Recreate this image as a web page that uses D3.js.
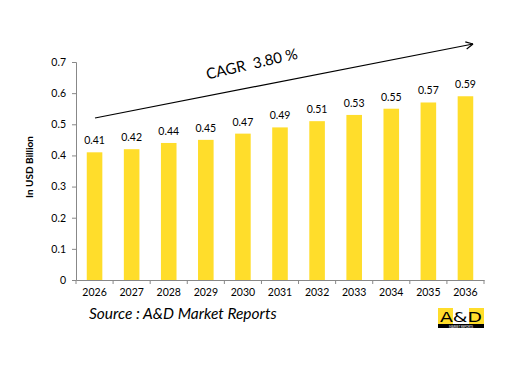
<!DOCTYPE html>
<html><head><meta charset="utf-8">
<script src="https://cdn.jsdelivr.net/npm/d3@7"></script>
<style>body{margin:0;background:#fff;} svg{display:block;}</style>
</head><body>
<script>
const years = ["2026","2027","2028","2029","2030","2031","2032","2033","2034","2035","2036"];
const values = [0.41,0.42,0.44,0.45,0.47,0.49,0.51,0.53,0.55,0.57,0.59];
const yTicks = [0,0.1,0.2,0.3,0.4,0.5,0.6,0.7];
const cagrText = "CAGR  3.80 %";
const yTitle = "In USD Billion";
const sourceText = "Source : A&D Market Reports";

(function(){
const W=518,H=366;
const svg=d3.select("body").append("svg").attr("width",W).attr("height",H);
const font="Lato, 'Open Sans', sans-serif";
const pL=76,pR=484,pT=62,pB=280;
const x=d3.scaleBand().domain(years).range([pL,pR]).paddingInner(0.58).paddingOuter(0.29);
const y=d3.scaleLinear().domain([0,0.7]).range([pB,pT]);

svg.selectAll("rect.bar").data(values).join("rect").attr("class","bar")
 .attr("x",(d,i)=>x(years[i])).attr("width",x.bandwidth())
 .attr("y",d=>y(d)).attr("height",d=>pB-y(d)).attr("fill","#FFDD2B");

svg.selectAll("text.val").data(values).join("text").attr("class","val")
 .attr("x",(d,i)=>x(years[i])+x.bandwidth()/2).attr("y",d=>y(d)-8)
 .attr("text-anchor","middle").attr("font-family",font).attr("font-size",10.5).attr("fill","#000")
 .text(d=>d.toFixed(2));

const ya=svg.append("g").attr("transform",`translate(${pL},0)`)
 .call(d3.axisLeft(y).tickValues(yTicks).tickSize(4).tickFormat(d=>d===0?"0":d3.format(".1f")(d)));
ya.select(".domain").attr("stroke","#888");
ya.selectAll(".tick line").attr("stroke","#888");
ya.selectAll(".tick text").attr("font-family",font).attr("font-size",10.5).attr("fill","#000").attr("dx",-3);

const xa=svg.append("g").attr("transform",`translate(0,${pB})`)
 .call(d3.axisBottom(x).tickSize(0).tickSizeOuter(0));
xa.select(".domain").attr("stroke","#888");
xa.selectAll(".tick text").attr("font-family",font).attr("font-size",10.5).attr("fill","#000").attr("dy","1.25em");
const step=x.step();
const bounds=d3.range(years.length+1).map(i=>pL+i*step);
xa.selectAll("line.sep").data(bounds).join("line").attr("class","sep")
 .attr("x1",d=>d).attr("x2",d=>d).attr("y1",0).attr("y2",4).attr("stroke","#888");

svg.append("text").attr("transform","translate(33,167) rotate(-90)")
 .attr("text-anchor","middle").attr("font-family",font).attr("font-weight","bold").attr("font-size",10).text(yTitle);

const x0=95,y0=118,x1=473,y1=44;
svg.append("line").attr("x1",x0).attr("y1",y0).attr("x2",x1).attr("y2",y1).attr("stroke","#000").attr("stroke-width",1.2);
const ang=Math.atan2(y1-y0,x1-x0);
const ah=8;
[ang+Math.PI*0.85, ang-Math.PI*0.85].forEach(a=>{
 svg.append("line").attr("x1",x1).attr("y1",y1).attr("x2",x1+ah*Math.cos(a)).attr("y2",y1+ah*Math.sin(a)).attr("stroke","#000").attr("stroke-width",1.2);
});
svg.append("text").attr("transform","translate(253,69) rotate(-13)").attr("text-anchor","middle")
 .attr("font-family",font).attr("font-size",15).attr("fill","#000").attr("xml:space","preserve").text(cagrText);

svg.append("text").attr("x",89).attr("y",319).attr("font-family",font).attr("font-style","italic")
 .attr("font-size",15.5).attr("fill","#000").text(sourceText);

const lg=svg.append("g").attr("transform","translate(438,308)");
lg.append("rect").attr("x",0).attr("y",0).attr("width",46).attr("height",20).attr("fill","#000");
lg.append("rect").attr("x",0).attr("y",0).attr("width",15).attr("height",16).attr("fill","#FFDD2B");
lg.append("rect").attr("x",15).attr("y",0).attr("width",16).attr("height",16).attr("fill","#fff");
lg.append("rect").attr("x",31).attr("y",0).attr("width",15).attr("height",16).attr("fill","#FFDD2B");
lg.append("text").attr("x",23).attr("y",13.5).attr("text-anchor","middle").attr("font-family","'DejaVu Sans', sans-serif")
 .attr("font-size",14).attr("textLength",42).attr("lengthAdjust","spacingAndGlyphs").attr("fill","#000").text("A&D");
lg.append("text").attr("x",23).attr("y",19.6).attr("text-anchor","middle").attr("font-family",font)
 .attr("font-size",2.8).attr("fill","#fff").text("MARKET REPORTS");
})();
</script>
</body></html>
